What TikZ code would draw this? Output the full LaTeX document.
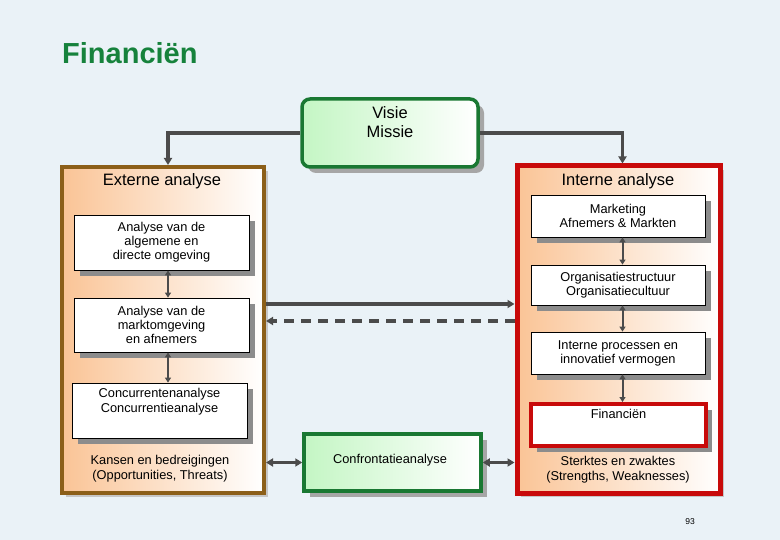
\documentclass[tikz,border=0pt]{standalone}
\usepackage{fontspec}
\setmainfont{Liberation Sans}
\usetikzlibrary{arrows.meta,shadows}

\definecolor{titlegreen}{RGB}{22,130,60}
\definecolor{boxgreen}{RGB}{25,120,50}
\definecolor{lightgreen}{RGB}{196,246,196}
\definecolor{extbrown}{RGB}{140,95,25}
\definecolor{intred}{RGB}{200,10,10}
\definecolor{peach}{RGB}{250,196,150}
\definecolor{arrowgray}{RGB}{75,75,75}
\definecolor{bgblue}{RGB}{234,242,247}

\begin{document}
\begin{tikzpicture}[x=1pt, y=-1pt, >={Triangle[length=7pt,width=8pt]},
    groupbox/.style={line width=4pt, left color=peach, right color=white,
        drop shadow={shadow xshift=4pt, shadow yshift=-4pt, fill=gray!45, opacity=1}},
    greenbox/.style={draw=boxgreen, line width=3.5pt, left color=lightgreen, right color=white,
        drop shadow={shadow xshift=6pt, shadow yshift=-6pt, fill=gray!70, opacity=1}},
    itembox/.style={draw=black, line width=0.8pt, fill=white, align=center,
        font=\fontsize{12.8}{14}\selectfont,
        drop shadow={shadow xshift=6pt, shadow yshift=-6pt, fill=gray!90, opacity=1}},
    boxtext/.style={align=center, font=\fontsize{12.8}{14.5}\selectfont},
    headtext/.style={align=center, font=\fontsize{16.5}{19}\selectfont},
    conn/.style={draw=arrowgray, line width=3.5pt},
    link/.style={draw=arrowgray, line width=2pt, {Triangle[length=5pt,width=6pt]}-{Triangle[length=5pt,width=6pt]}}]
        % Background
        \fill[bgblue] (0,0) rectangle (780,540);
        \useasboundingbox (0,0) rectangle (780,540);

        % Title
        \node[anchor=base west, inner sep=0pt, text=titlegreen,
              font=\bfseries\fontsize{29}{32}\selectfont] (title) at (62,64) {Financiën};

        % Visie en missie
        \node[greenbox, rounded corners=8pt, minimum width=176, minimum height=68] (visie) at (390,133) {};
        \node[headtext, anchor=north] (visietxt) at (390,103) {Visie\\Missie};

        % Groups
        \node[groupbox, draw=extbrown, minimum width=202, minimum height=326] (extern) at (163,330) {};
        \node[groupbox, draw=intred, line width=5pt, minimum width=203, minimum height=327] (intern) at (618.5,329.5) {};
        \node[headtext] (externtxt) at (162,181) {Externe analyse};
        \node[headtext] (interntxt) at (618,181) {Interne analyse};

        % Externe analyse
        \node[itembox, minimum width=175, minimum height=55] (ext1) at (161.5,242.5)
            {Analyse van de\\algemene en\\directe omgeving};
        \node[itembox, minimum width=175, minimum height=54] (ext2) at (161.5,325)
            {Analyse van de\\marktomgeving\\en afnemers};
        \node[itembox, minimum width=175, minimum height=55] (ext3) at (159.5,410.5) {};
        \node[boxtext, anchor=north] (ext3txt) at (159.5,385) {Concurrentenanalyse\\Concurrentieanalyse};
        \node[boxtext] (kansen) at (160,468.5) {Kansen en bedreigingen\\(Opportunities, Threats)};

        % Interne analyse
        \node[itembox, minimum width=174, minimum height=42] (int1) at (618,216)
            {Marketing\\Afnemers \& Markten};
        \node[itembox, minimum width=174, minimum height=40] (int2) at (618,285)
            {Organisatiestructuur\\Organisatiecultuur};
        \node[itembox, minimum width=174, minimum height=42] (int3) at (618,353)
            {Interne processen en\\innovatief vermogen};
        \node[itembox, draw=intred, line width=4pt, minimum width=175, minimum height=42] (int4) at (618.5,425) {};
        \node[boxtext, anchor=north] (int4txt) at (618.5,406) {Financiën};
        \node[boxtext] (sterktes) at (618,469.5) {Sterktes en zwaktes\\(Strengths, Weaknesses)};

        % Confrontatie
        \node[greenbox, minimum width=177, minimum height=57] (confr) at (392.5,462.5) {};
        \node[boxtext] (confrtxt) at (390,460) {Confrontatieanalyse};

        % Connectors
        \draw[conn, ->] (visie.west) -| ([xshift=5pt]extern.north);
        \draw[conn, ->] (visie.east) -| ([xshift=4pt]intern.north);
        \draw[conn, ->] (extern.east |- 0,304) -- (intern.west |- 0,304);
        \draw[conn, ->, dash pattern=on 10pt off 7pt] (intern.west |- 0,321) -- (extern.east |- 0,321);
        \draw[conn, <->] (extern.east |- confr.west) -- (confr.west);
        \draw[conn, <->] (confr.east) -- (intern.west |- confr.east);

        % Links between items
        \draw[link] ([xshift=6.5pt]ext1.south) -- ([xshift=6.5pt]ext2.north);
        \draw[link] ([xshift=6.5pt]ext2.south) -- ([xshift=8.5pt]ext3.north);
        \draw[link] ([xshift=4.5pt]int1.south) -- ([xshift=4.5pt]int2.north);
        \draw[link] ([xshift=4.5pt]int2.south) -- ([xshift=4.5pt]int3.north);
        \draw[link] ([xshift=4.5pt]int3.south) -- ([xshift=4pt]int4.north);

        % Page number
        \node[font=\fontsize{8.5}{9}\selectfont] (page) at (690,522) {93};
    \end{tikzpicture}
\end{document}
